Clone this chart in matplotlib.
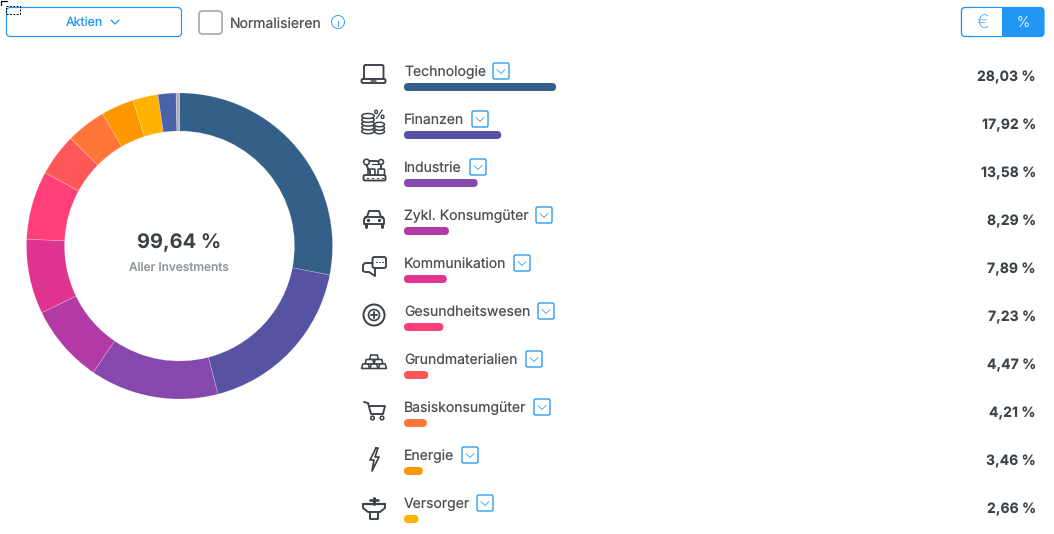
import numpy as np
import matplotlib
matplotlib.use("Agg")
import matplotlib.pyplot as plt
from matplotlib.patches import Wedge, FancyBboxPatch, Rectangle, Circle, Polygon, Ellipse

plt.rcParams['font.family'] = ['Inter', 'DejaVu Sans']
plt.rcParams['text.hinting'] = 'no_hinting'
plt.rcParams['text.hinting_factor'] = 1

categories = ["Technologie", "Finanzen", "Industrie", "Zykl. Konsumgüter", "Kommunikation",
              "Gesundheitswesen", "Grundmaterialien", "Basiskonsumgüter", "Energie", "Versorger"]
values = [28.03, 17.92, 13.58, 8.29, 7.89, 7.23, 4.47, 4.21, 3.46, 2.66]
value_labels = ["28,03 %", "17,92 %", "13,58 %", "8,29 %", "7,89 %", "7,23 %", "4,47 %", "4,21 %", "3,46 %", "2,66 %"]
colors = ["#335f89", "#5752a2", "#8648ad", "#b23aa4", "#df3590", "#ff3f78", "#ff5757", "#ff7638", "#ff9800", "#ffb300"]
rest_values = [1.90, 0.36]
rest_colors = ["#4a62aa", "#b0b0b8"]
box_x = [493, 472, 470, 536, 514, 538, 526, 534, 462, 477]
total_label = "99,64 %"
total_sub = "Aller Investments"

BLUE = "#2196f3"
DARK = "#3c4248"
W, H = 1054, 534
fig = plt.figure(figsize=(W / 100, H / 100), dpi=100)
ax = fig.add_axes([0, 0, 1, 1])
ax.set_xlim(0, W)
ax.set_ylim(H, 0)
ax.axis("off")
px = 0.72


def rbox(x, y, w, h, r, fc="none", ec="none", lw=1.0, z=3):
    ax.add_patch(FancyBboxPatch((x + r, y + r), w - 2 * r, h - 2 * r, boxstyle=f"round,pad={r},rounding_size={r}",
                                fc=fc, ec=ec, lw=lw * px, mutation_aspect=1, zorder=z))


def ln(xs, ys, c=DARK, lw=1.6, z=4):
    ax.plot(xs, ys, color=c, lw=lw * px, solid_capstyle="round", solid_joinstyle="round", zorder=z)


def circ(x, y, r, fc="none", ec=DARK, lw=1.5):
    ax.add_patch(Circle((x, y), r, fc=fc, ec=ec, lw=lw * px, zorder=4))


# donut (y axis inverted: angle runs clockwise on screen)
cx, cy, r_out, r_in = 179.5, 246.0, 153.0, 115.0
all_vals = values + rest_values
all_cols = colors + rest_colors
ang = -90.0
for v, c in zip(all_vals, all_cols):
    span = v * 3.6
    ax.add_patch(Wedge((cx, cy), r_out, ang, ang + span, width=r_out - r_in, fc=c, ec="none", zorder=2))
    ax.add_patch(Wedge((cx, cy), r_out, ang, ang + span, width=r_out - r_in, fc="none",
                       ec=(1, 1, 1, 0.2), lw=0.5, zorder=2.5))
    ang += span
ax.text(cx - 0.5, 242.5, total_label, ha="center", va="center", fontsize=14.4, fontweight="bold", color=DARK)
ax.text(cx - 0.5, 268.5, total_sub, ha="center", va="center", fontsize=8.64, fontweight="medium", color="#8f959b")

# rows
for i, name in enumerate(categories):
    dy = 48 * i
    ax.text(404, 72.5 + dy, name, ha="left", va="center", fontsize=10.08, color="#4a5056")
    bx = box_x[i]
    rbox(bx, 63 + dy, 16, 16, 1.5, fc="white", ec=BLUE, lw=1.3)
    ln([bx + 4, bx + 8, bx + 12], [69.5 + dy, 73.5 + dy, 69.5 + dy], c="#58aef5", lw=1.0)
    wbar = values[i] * 152 / values[0]
    rbox(404, 83 + dy, wbar, 8, 4, fc=colors[i], lw=0)
    ax.text(1036, 77.5 + dy, value_labels[i], ha="right", va="center", fontsize=10.08, fontweight="bold", color=DARK)

LW = 1.9
# laptop
y = 74
rbox(364, y - 9, 19.5, 14, 1.5, ec=DARK, lw=LW)
rbox(361.5, y + 5, 24, 4, 1.5, ec=DARK, lw=LW, fc="white")
ln([371, 376], [y + 6.5, y + 6.5], lw=1.5)
# coins
y = 122
for k in range(4, -1, -1):
    ax.add_patch(Ellipse((368, y - 6 + k * 3.8), 12.5, 5, fc="white", ec=DARK, lw=1.5 * px, zorder=4))
for k in range(2, -1, -1):
    ax.add_patch(Ellipse((379.5, y + 2.5 + k * 3.5), 10, 4.5, fc="white", ec=DARK, lw=1.5 * px, zorder=4))
ax.text(379.5, y - 7, "%", ha="center", va="center", fontsize=9, fontweight="bold", color=DARK, zorder=5)
# robot
y = 170
rbox(363.5, y + 5, 22, 5.5, 1.5, ec=DARK, lw=LW)
ln([366, 376, 381, 381], [y - 9, y - 9, y - 8, y - 1], lw=LW)
ln([366, 368, 370, 370], [y - 7, y - 1, y + 1, y + 5], lw=LW)
ln([372, 380], [y - 6, y - 6], lw=1.2)
circ(366.5, y - 8, 2.8, fc="white", lw=1.6)
circ(381, y - 8, 2.5, fc="white", lw=1.6)
rbox(368, y - 1, 7, 6, 1, ec=DARK, lw=1.6, fc="white")
rbox(378, y - 1, 6.5, 6, 1, ec=DARK, lw=1.6, fc="white")
for xx in (367, 372, 377, 382):
    ln([xx, xx + .5], [y + 7.8, y + 7.8], lw=1.2)
# car
y = 218
ln([367, 369, 379, 381, 384, 384, 364, 364, 367], [y - 1, y - 7, y - 7, y - 1, y + 1, y + 6, y + 6, y + 1, y - 1], lw=LW)
ln([365, 383], [y - 1, y - 1], lw=LW)
ln([366, 366], [y + 6, y + 9], lw=3)
ln([382, 382], [y + 6, y + 9], lw=3)
circ(368.5, y + 2.5, 0.9)
circ(379.5, y + 2.5, 0.9)
# chat
y = 266
rbox(372.5, y - 9, 13.5, 11, 2, ec=DARK, lw=LW)
ln([372.5, 365, 363, 363, 365, 369, 375, 375], [y - 3, y - 3, y - 1, y + 5, y + 6, y + 6, y + 10, y + 2], lw=LW)
for xx in (376, 379, 382):
    ln([xx, xx + .8], [y - 4, y - 4], lw=1)
# health
y = 315
circ(374, y, 10.5, lw=2)
circ(374, y, 5.5, lw=1.7)
ln([374, 374], [y - 3, y + 3], lw=1.9)
ln([371, 377], [y, y], lw=1.9)
# gold bars
y = 363
for bxx, byy, w in [(369.5, -8, 9), (365, -3.5, 9), (374, -3.5, 9), (361.5, 1, 8), (370, 1, 8), (378.5, 1, 8)]:
    ax.add_patch(Polygon([(bxx + 1.3, y + byy), (bxx + w - 1.3, y + byy), (bxx + w, y + byy + 4.5), (bxx, y + byy + 4.5)],
                         fc="white", ec=DARK, lw=1.6 * px, zorder=4))
# cart
y = 411
ln([364, 368, 371, 383, 385, 370], [y - 9, y - 8, y + 3, y + 3, y - 5, y - 5], lw=LW)
circ(372.5, y + 7, 1.8, lw=1.6)
circ(382, y + 7, 1.8, lw=1.6)
# bolt
y = 459
ln([376, 370, 374, 372, 379, 375, 378, 376], [y - 11, y + 1, y + 1, y + 12, y - 2, y - 2, y - 11, y - 11], lw=1.7)
# sink
y = 507
ln([363, 385], [y - 3, y - 3], lw=2.2)
ln([363, 363, 368, 380, 385, 385], [y - 3, y + 1, y + 5, y + 5, y + 1, y - 3], lw=LW)
ln([370, 370, 378, 378], [y + 5, y + 12, y + 12, y + 5], lw=LW)
ln([374, 374], [y - 3, y - 9], lw=3)
ln([370, 378], [y - 7, y - 7], lw=2.6)

# header
rbox(6.5, 7.5, 175, 29, 4, fc="white", ec=BLUE, lw=1.2)
ax.text(84, 22.5, "Aktien", ha="center", va="center", fontsize=9.0, color=BLUE)
ln([111, 115, 119], [20, 24, 20], c=BLUE, lw=1.3)
rbox(199, 11, 23, 23, 3.5, fc="white", ec="#adb1b5", lw=1.9)
ax.text(230, 24.5, "Normalisieren", ha="left", va="center", fontsize=10.08, color="#4a5056")
circ(338, 22, 6.5, ec="#4aa8f5", lw=1.1)
ln([338, 338], [21, 26], c="#4aa8f5", lw=1.2)
ln([338, 338], [18.3, 18.4], c="#4aa8f5", lw=1.3)

# toggle
rbox(961.5, 7.5, 82.5, 29, 4, fc=BLUE, ec=BLUE, lw=1.2)
rbox(961.5, 7.5, 20, 29, 4, fc="white", ec=BLUE, lw=1.2, z=4)
ax.add_patch(Rectangle((972, 8), 30, 28, fc="white", ec="none", zorder=4))
ax.add_patch(Rectangle((972, 7), 30, 1, fc=BLUE, ec="none", zorder=4))
ax.add_patch(Rectangle((972, 36), 30, 1, fc=BLUE, ec="none", zorder=4))
ax.text(982.5, 23.5, "€", ha="center", va="center", fontsize=13.5, color="#63b4f6", fontweight="light", zorder=5)
ax.text(1023, 23, "%", ha="center", va="center", fontsize=10.5, color="white", fontweight="light", zorder=5)

# focus marker, top left
ax.add_patch(Rectangle((5.5, 5.5), 14, 8, fc="none", ec="black", lw=0.7, ls=(0, (2, 1.5)), zorder=6))
ln([0.5, 6.5], [1, 1], c="black", lw=1.2, z=6)
ln([1, 1], [0.5, 5], c="black", lw=1.2, z=6)

fig.savefig("out.png", dpi=100)
